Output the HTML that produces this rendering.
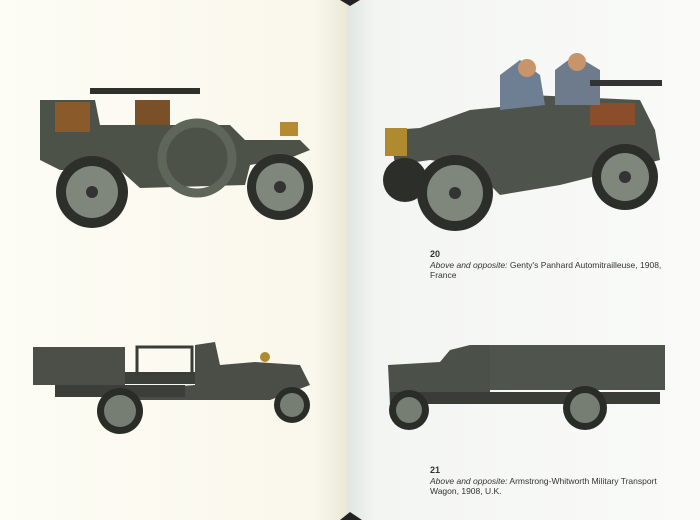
<!DOCTYPE html>
<html><head><style>
body{margin:0;width:700px;height:520px;overflow:hidden;background:#fff}
svg{display:block}
text{font-family:"Liberation Sans",sans-serif;fill:#333}
</style></head><body>
<svg width="700" height="520" viewBox="0 0 700 520">
<defs>
<linearGradient id="lp" x1="0" x2="1"><stop offset="0" stop-color="#fdfcf5"/><stop offset="0.9" stop-color="#faf8ec"/><stop offset="1" stop-color="#ebe8d6"/></linearGradient>
<linearGradient id="rp" x1="0" x2="1"><stop offset="0" stop-color="#dfe6e1"/><stop offset="0.08" stop-color="#f3f5f2"/><stop offset="1" stop-color="#fafbf9"/></linearGradient>
</defs>
<rect x="0" y="0" width="347" height="520" fill="url(#lp)"/>
<rect x="347" y="0" width="353" height="520" fill="url(#rp)"/>
<polygon points="340,0 360,0 350,6" fill="#222"/>
<polygon points="340,520 362,520 350,512" fill="#222"/>

<g>
<path d="M40,100 L95,100 L100,125 L230,125 L245,140 L300,140 L310,150 L290,158 L250,165 L245,185 L140,188 L120,170 L60,170 L40,160 Z" fill="#4d5249"/>
<rect x="55" y="102" width="35" height="30" fill="#8a5a2a"/>
<rect x="135" y="100" width="35" height="25" fill="#7a5028"/>
<rect x="90" y="88" width="110" height="6" fill="#2f302b"/>
<circle cx="92" cy="192" r="36" fill="#2d2f2a"/><circle cx="92" cy="192" r="26" fill="#7f867c"/><circle cx="92" cy="192" r="6" fill="#333"/>
<circle cx="280" cy="187" r="33" fill="#2d2f2a"/><circle cx="280" cy="187" r="24" fill="#7f867c"/><circle cx="280" cy="187" r="6" fill="#333"/>
<circle cx="197" cy="158" r="35" fill="none" stroke="#5e6659" stroke-width="9"/>
<rect x="280" y="122" width="18" height="14" fill="#b58a30"/>
</g>

<g>
<path d="M390,130 L420,128 L470,110 L520,105 L530,95 L640,100 L655,130 L660,160 L600,175 L560,185 L500,195 L470,165 L430,160 L395,165 Z" fill="#4e544c"/>
<rect x="385" y="128" width="22" height="28" fill="#b08a2e"/>
<rect x="590" y="103" width="45" height="22" fill="#8a4f2a"/>
<path d="M500,75 L520,60 L540,75 L545,105 L500,110 Z" fill="#6f7f93"/>
<path d="M555,70 L575,55 L600,70 L600,105 L555,105 Z" fill="#6d7b8c"/>
<circle cx="527" cy="68" r="9" fill="#c8946a"/><circle cx="577" cy="62" r="9" fill="#c8946a"/>
<rect x="590" y="80" width="72" height="6" fill="#333"/>
<circle cx="455" cy="193" r="38" fill="#2c2e29"/><circle cx="455" cy="193" r="28" fill="#7f867c"/><circle cx="455" cy="193" r="6" fill="#333"/>
<circle cx="625" cy="177" r="33" fill="#2c2e29"/><circle cx="625" cy="177" r="24" fill="#7f867c"/><circle cx="625" cy="177" r="6" fill="#333"/>
<circle cx="405" cy="180" r="22" fill="#2c2e29"/>
</g>
<text x="430" y="257" font-size="9" font-weight="bold">20</text>
<text x="430" y="268" font-size="8.5"><tspan font-style="italic">Above and opposite:</tspan> Genty's Panhard Automitrailleuse, 1908,</text>
<text x="430" y="278" font-size="8.5">France</text>

<g>
<rect x="33" y="347" width="92" height="38" fill="#4b4f48"/>
<rect x="125" y="372" width="70" height="12" fill="#3d403a"/>
<rect x="137" y="347" width="55" height="27" fill="none" stroke="#3a3c37" stroke-width="3"/>
<path d="M195,345 L215,342 L220,365 L255,362 L300,365 L310,385 L270,400 L140,400 L125,390 L195,385 Z" fill="#4a4e47"/>
<rect x="55" y="385" width="130" height="12" fill="#3b3e39"/>
<circle cx="120" cy="411" r="23" fill="#2a2c28"/><circle cx="120" cy="411" r="16" fill="#767d73"/>
<circle cx="292" cy="405" r="18" fill="#2a2c28"/><circle cx="292" cy="405" r="12" fill="#767d73"/>
<circle cx="265" cy="357" r="5" fill="#b08a30"/>
</g>

<g>
<rect x="490" y="345" width="175" height="45" fill="#4f554c"/>
<path d="M388,365 L440,362 L450,350 L470,345 L490,345 L490,400 L390,405 Z" fill="#4b5048"/>
<rect x="390" y="392" width="270" height="12" fill="#3a3d37"/>
<circle cx="409" cy="410" r="20" fill="#2a2c28"/><circle cx="409" cy="410" r="13" fill="#767d73"/>
<circle cx="585" cy="408" r="22" fill="#2a2c28"/><circle cx="585" cy="408" r="15" fill="#767d73"/>
</g>
<text x="430" y="473" font-size="9" font-weight="bold">21</text>
<text x="430" y="484" font-size="8.5"><tspan font-style="italic">Above and opposite:</tspan> Armstrong-Whitworth Military Transport</text>
<text x="430" y="494" font-size="8.5">Wagon, 1908, U.K.</text>
</svg>
</body></html>
